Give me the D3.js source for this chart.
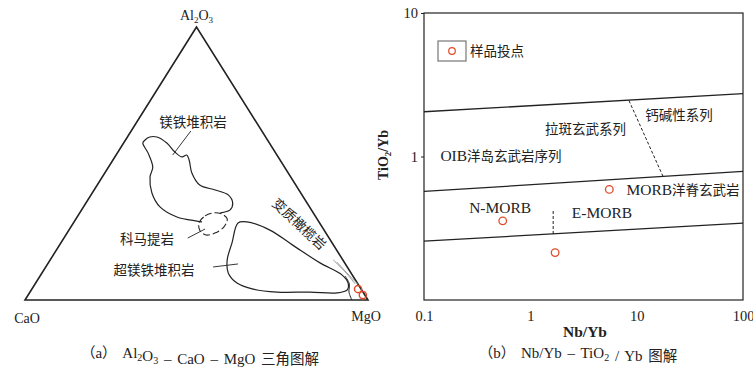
<!DOCTYPE html>
<html>
<head>
<meta charset="utf-8">
<script src="https://cdn.jsdelivr.net/npm/d3@7"></script>
<style>
  body { margin: 0; background: #fff; }
  svg { display: block; }
  text { font-family: 'Liberation Serif', 'Noto Sans CJK SC', serif; fill: #222; }
</style>
</head>
<body>
<svg id="chart" width="753" height="370"></svg>
<script>
// ---- (a) ternary Al2O3 - CaO - MgO, points as [Al2O3 %, MgO %] (CaO = rest)
const maficCumulate = [[28.6, 37.3], [28.9, 35.7], [30.4, 29.1], [34.1, 22.3], [39.2, 17.4], [45.1, 13.9],
    [48.7, 12.9], [53.8, 9.0], [57.5, 5.6], [58.6, 5.7], [59.7, 6.5], [59.7, 8.6], [57.5, 12.6],
    [54.2, 16.6], [52.4, 19.6], [53.1, 20.6], [51.3, 22.2], [46.5, 25.4], [42.1, 29.9], [40.3, 35.3],
    [38.5, 40.0], [35.5, 42.8], [33.0, 43.3], [31.9, 41.0]]
const komatiite = [[28.2, 36.6], [30.8, 37.1], [31.9, 38.9], [31.5, 41.6], [29.7, 44.1], [26.7, 44.6],
    [24.5, 43.1], [23.8, 40.9], [25.3, 38.4]]
const ultramaficCumulate = [[28.2, 48.0], [28.6, 50.4], [25.6, 58.6], [20.1, 68.0], [13.6, 79.2], [9.2, 87.8],
    [6.2, 91.1], [3.7, 92.1], [2.6, 89.7], [2.9, 81.6], [2.9, 72.0], [4.0, 64.5], [6.2, 58.7],
    [9.9, 54.3], [14.7, 51.6], [20.9, 49.9]]
const peridotiteLines = [
    [[14.7, 82.5], [10.3, 88.2], [5.9, 93.3]],
    [[13.9, 84.0], [9.5, 89.4], [5.9, 94.0]]
]
const peridotiteArc = [[8.8, 88.9], [5.9, 91.6], [2.9, 93.0], [0, 95.3]]
const ternarySamples = [[4.0, 95.1], [1.8, 97.6]]
const ternaryLeaders = [
    [[61.9, 17.4], [53.1, 16.5]],
    [[22.7, 36.1], [26.0, 39.5]],
    [[12.1, 48.8], [13.2, 55.5]]
]
const ternaryLabels = [
    { text: '镁铁堆积岩', at: [65.2, 16.4], rotate: 0 },
    { text: '科马提岩', at: [22.3, 24.4], rotate: 0 },
    { text: '超镁铁堆积岩', at: [11.0, 32.1], rotate: 0 },
    { text: '变质橄榄岩', at: [27.8, 66.0], rotate: 43 }
]

// ---- (b) Nb/Yb - TiO2/Yb
const boundaryLines = [
    [[0.1, 2.05], [100, 2.74]],
    [[0.1, 0.571], [100, 0.787]],
    [[0.1, 0.257], [100, 0.343]]
]
const dashedLines = [
    [[8.47, 2.45], [17.7, 0.726]],
    [[1.64, 0.417], [1.64, 0.288]]
]
const samplesNb = [5.53, 0.55, 1.71]
const samplesTi = [0.59, 0.356, 0.214]
const xTicks = [0.1, 1, 10, 100]
const yTicks = [1, 10]
const fieldLabels = [
    { text: '钙碱性系列', x: 25, y: 1.95 },
    { text: '拉斑玄武系列', x: 3.3, y: 1.58 },
    { text: 'OIB洋岛玄武岩序列', x: 0.53, y: 1.02 },
    { text: 'MORB洋脊玄武岩', x: 27.3, y: 0.59 },
    { text: 'N-MORB', x: 0.52, y: 0.44 },
    { text: 'E-MORB', x: 4.72, y: 0.41 }
]

const svg = d3.select('#chart')
const ink = '#222'
const cjk = /[\u3000-\u9fff\uff00-\uffef]/

// split a label into latin / CJK runs so the latin part can be sized on its own
function mixedText(sel, str, latinSize, cjkSize) {
    const runs = []
    for (const ch of str) {
        const isC = cjk.test(ch)
        if (runs.length && runs[runs.length - 1].c === isC) runs[runs.length - 1].s += ch
        else runs.push({ s: ch, c: isC })
    }
    runs.forEach(r => {
        sel.append('tspan').style('font-size', (r.c ? cjkSize : latinSize) + 'px').text(r.s)
    })
}

// ================= (a) ternary =================
const tx = d3.scaleLinear().domain([0, 1]).range([25, 368])
const ty = d3.scaleLinear().domain([0, 1]).range([300, 27])

function project([al, mg]) {
    const a = al / 100
    const m = mg / 100
    return [tx(m + a / 2), ty(a)]
}

const corners = [[100, 0], [0, 0], [0, 100]]
svg.append('path')
    .attr('d', d3.line()(corners.map(project)) + 'Z')
    .attr('fill', 'none')
    .attr('stroke', ink)
    .attr('stroke-width', 1.6)

const smooth = d3.line().curve(d3.curveCatmullRom.alpha(0.5))
const smoothClosed = d3.line().curve(d3.curveCatmullRomClosed.alpha(0.5))

svg.append('path')
    .attr('d', smooth(maficCumulate.map(project)))
    .attr('fill', 'none').attr('stroke', ink).attr('stroke-width', 1.2)

svg.append('path')
    .attr('d', smoothClosed(komatiite.map(project)))
    .attr('fill', 'none').attr('stroke', ink).attr('stroke-width', 1.1)
    .attr('stroke-dasharray', '7,3')

svg.append('path')
    .attr('d', smoothClosed(ultramaficCumulate.map(project)))
    .attr('fill', 'none').attr('stroke', ink).attr('stroke-width', 1.2)

peridotiteLines.forEach(l => {
    svg.append('path')
        .attr('d', smooth(l.map(project)))
        .attr('fill', 'none').attr('stroke', '#999').attr('stroke-width', 1)
})
svg.append('path')
    .attr('d', smooth(peridotiteArc.map(project)))
    .attr('fill', 'none').attr('stroke', ink).attr('stroke-width', 1)

ternaryLeaders.forEach(l => {
    svg.append('path')
        .attr('d', d3.line()(l.map(project)))
        .attr('fill', 'none').attr('stroke', ink).attr('stroke-width', 0.9)
})

svg.selectAll('circle.tsample')
    .data(ternarySamples)
    .enter()
    .append('circle')
    .attr('class', 'tsample')
    .attr('cx', d => project(d)[0])
    .attr('cy', d => project(d)[1])
    .attr('r', 3.6)
    .attr('fill', 'none')
    .attr('stroke', '#e04a2a')
    .attr('stroke-width', 1.4)

svg.selectAll('text.tlabel')
    .data(ternaryLabels)
    .enter()
    .append('text')
    .attr('class', 'tlabel')
    .attr('transform', d => {
        const [x, y] = project(d.at)
        return `translate(${x},${y}) rotate(${d.rotate})`
    })
    .attr('text-anchor', 'middle')
    .attr('dy', '0.35em')
    .style('font-size', '13.5px')
    .text(d => d.text)

// corner names
const apex = project([100, 0])
const al = svg.append('text')
    .attr('x', apex[0]).attr('y', apex[1] - 7)
    .attr('text-anchor', 'middle')
    .style('font-size', '14px')
al.append('tspan').text('Al')
al.append('tspan').attr('dy', 3).style('font-size', '9px').text('2')
al.append('tspan').attr('dy', -3).text('O')
al.append('tspan').attr('dy', 3).style('font-size', '9px').text('3')

const ca = project([0, 0])
svg.append('text').attr('x', ca[0] + 2).attr('y', ca[1] + 23)
    .attr('text-anchor', 'middle').style('font-size', '14px').text('CaO')
const mg = project([0, 100])
svg.append('text').attr('x', mg[0] - 2).attr('y', mg[1] + 21)
    .attr('text-anchor', 'middle').style('font-size', '14px').text('MgO')

// ================= (b) log-log =================
const x = d3.scaleLog().domain([0.1, 100]).range([424, 743])
const y = d3.scaleLog().domain([0.1, 10]).range([300, 13])

svg.append('rect')
    .attr('x', x(0.1)).attr('y', y(10))
    .attr('width', x(100) - x(0.1)).attr('height', y(0.1) - y(10))
    .attr('fill', 'none').attr('stroke', ink).attr('stroke-width', 1.2)

const xAxis = svg.append('g')
    .attr('transform', `translate(0,${y(0.1)})`)
    .call(d3.axisBottom(x).tickValues(xTicks).tickSize(0).tickPadding(11).tickFormat(d3.format('~g')))
const yAxis = svg.append('g')
    .attr('transform', `translate(${x(0.1)},0)`)
    .call(d3.axisLeft(y).tickValues(yTicks).tickSize(3).tickPadding(3).tickFormat(d3.format('~g')))
;[xAxis, yAxis].forEach(g => {
    g.select('.domain').remove()
    g.selectAll('text').style('font-size', '14.5px').attr('fill', ink)
        .style('font-family', "'Liberation Serif', serif")
    g.selectAll('line').attr('stroke', ink)
})

const logLine = d3.line().x(d => x(d[0])).y(d => y(d[1]))
boundaryLines.forEach(l => {
    svg.append('path').attr('d', logLine(l))
        .attr('fill', 'none').attr('stroke', ink).attr('stroke-width', 1.3)
})
dashedLines.forEach(l => {
    svg.append('path').attr('d', logLine(l))
        .attr('fill', 'none').attr('stroke', ink).attr('stroke-width', 1)
        .attr('stroke-dasharray', '3,2')
})

svg.selectAll('circle.sample')
    .data(samplesNb.map((nb, i) => [nb, samplesTi[i]]))
    .enter()
    .append('circle')
    .attr('class', 'sample')
    .attr('cx', d => x(d[0]))
    .attr('cy', d => y(d[1]))
    .attr('r', 3.8)
    .attr('fill', 'none')
    .attr('stroke', '#e04a2a')
    .attr('stroke-width', 1.3)

svg.selectAll('text.field')
    .data(fieldLabels)
    .enter()
    .append('text')
    .attr('class', 'field')
    .attr('x', d => x(d.x))
    .attr('y', d => y(d.y))
    .attr('text-anchor', 'middle')
    .attr('dy', '0.35em')
    .each(function (d) { mixedText(d3.select(this), d.text, 15.5, 13.5) })

// legend
svg.append('rect')
    .attr('x', 438).attr('y', 41).attr('width', 28).attr('height', 20)
    .attr('fill', 'none').attr('stroke', '#777').attr('stroke-width', 1.2)
svg.append('circle')
    .attr('cx', 452).attr('cy', 51).attr('r', 3.3)
    .attr('fill', 'none').attr('stroke', '#e04a2a').attr('stroke-width', 1.2)
svg.append('text')
    .attr('x', 470).attr('y', 51).attr('dy', '0.35em')
    .style('font-size', '13.5px').text('样品投点')

// axis titles
svg.append('text')
    .attr('x', 585).attr('y', 337)
    .attr('text-anchor', 'middle')
    .style('font-size', '15.5px').style('font-weight', 'bold')
    .text('Nb/Yb')
const yt = svg.append('text')
    .attr('transform', `translate(388,155) rotate(-90)`)
    .attr('text-anchor', 'middle')
    .style('font-size', '14px').style('font-weight', 'bold')
yt.append('tspan').text('TiO')
yt.append('tspan').attr('dy', 3).style('font-size', '9px').text('2')
yt.append('tspan').attr('dy', -3).text('/Yb')

// ================= captions =================
function caption(cx, parts) {
    const t = svg.append('text')
        .attr('x', cx).attr('y', 358)
        .attr('text-anchor', 'middle')
        .style('font-size', '15px')
        .style('word-spacing', '2px')
        .attr('fill', '#444')
    parts.forEach(([s, sub]) => {
        if (sub) {
            t.append('tspan').attr('dy', 3).style('font-size', '10px').text(s)
            t.append('tspan').attr('dy', -3).text('')
        } else {
            mixedText(t.append('tspan'), s, 15, 14.5)
        }
    })
}
caption(200, [['（a） Al'], ['2', true], ['O'], ['3', true], ['  –  CaO  –  MgO 三角图解']])
caption(578, [['（b） Nb/Yb  –  TiO'], ['2', true], [' / Yb 图解']])
</script>
</body>
</html>
